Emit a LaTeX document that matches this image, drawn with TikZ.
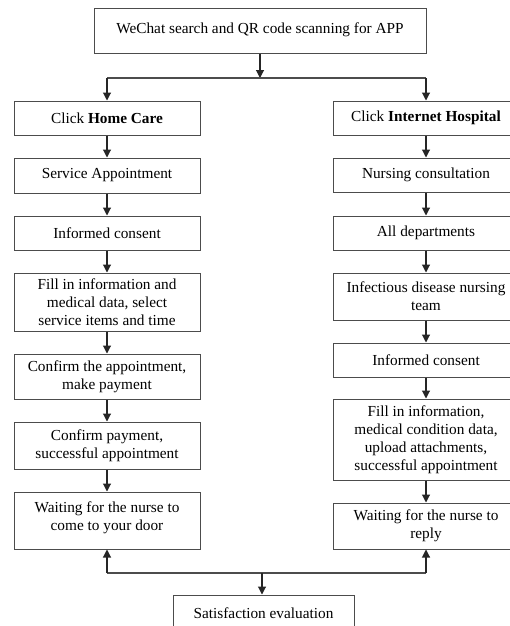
\documentclass[tikz,border=0pt]{standalone}
\usepackage{fontspec}
\setmainfont{Liberation Serif}
\usetikzlibrary{arrows.meta}
\begin{document}
\begin{tikzpicture}[x=1pt,y=-1pt,
  box/.style={draw=black!70, line width=1pt, align=center, inner sep=0pt,
              font=\fontsize{15.3}{18}\selectfont, minimum width=186pt},
  conn/.style={draw=black!85, line width=1.1pt, -{Triangle[length=8pt,width=8pt]}},
  ln/.style={draw=black!70, line width=1.1pt}]
\useasboundingbox (0,0) rectangle (510,626);
\clip (0,0) rectangle (510,626);
\fill[white] (0,0) rectangle (510,626);

% top
\node[box, minimum width=332pt, minimum height=45pt] (top) at (260,31.5) {WeChat search and QR code scanning for APP\\[-11pt]};

% left column
\node[box, minimum height=34pt] (la) at (107,118) {Click \textbf{Home Care}};
\node[box, minimum height=35pt] (lb) at (107,175.5) {Service Appointment};
\node[box, minimum height=34pt] (lc) at (107,233) {Informed consent};
\node[box, minimum height=58pt] (ld) at (107,302) {Fill in information and\\medical data, select\\service items and time};
\node[box, minimum height=45pt] (le) at (107,376.5) {Confirm the appointment,\\make payment};
\node[box, minimum height=47pt] (lf) at (107,445.5) {Confirm payment,\\successful appointment};
\node[box, minimum height=57pt, text depth=8pt] (lg) at (107,520.5) {Waiting for the nurse to\\come to your door};

% right column
\node[box, minimum height=34pt] (ra) at (426,118) {Click \textbf{Internet Hospital}};
\node[box, minimum height=34pt] (rb) at (426,175) {Nursing consultation};
\node[box, minimum height=34pt] (rc) at (426,233) {All departments};
\node[box, minimum height=47pt] (rd) at (426,296.5) {Infectious disease nursing\\team};
\node[box, minimum height=34pt] (re) at (426,360) {Informed consent};
\node[box, minimum height=81pt] (rf) at (426,439.5) {Fill in information,\\medical condition data,\\upload attachments,\\successful appointment};
\node[box, minimum height=46pt] (rg) at (426,526) {Waiting for the nurse to\\reply};

% bottom
\node[box, minimum width=181pt, minimum height=36pt] (sat) at (263.5,613) {Satisfaction evaluation};

% split
\coordinate (sC) at (260,78);
\coordinate (sL) at (107,78);
\coordinate (sR) at (426,78);
\draw[conn] (top.south) -- (sC);
\draw[ln] (sL) -- (sR);
\draw[conn] (sL) -- (la.north);
\draw[conn] (sR) -- (ra.north);

% left chain
\draw[conn] (la) -- (lb);
\draw[conn] (lb) -- (lc);
\draw[conn] (lc) -- (ld);
\draw[conn] (ld) -- (le);
\draw[conn] (le) -- (lf);
\draw[conn] (lf) -- (lg);

% right chain
\draw[conn] (ra) -- (rb);
\draw[conn] (rb) -- (rc);
\draw[conn] (rc) -- (rd);
\draw[conn] (rd) -- (re);
\draw[conn] (re) -- (rf);
\draw[conn] (rf) -- (rg);

% join
\coordinate (jL) at (107,573);
\coordinate (jR) at (426,573);
\coordinate (jC) at (262,573);
\draw[ln] (jL) -- (jR);
\draw[conn] (jL) -- (lg.south);
\draw[conn] (jR) -- (rg.south);
\draw[conn] (jC) -- (jC |- sat.north);
\end{tikzpicture}
\end{document}
